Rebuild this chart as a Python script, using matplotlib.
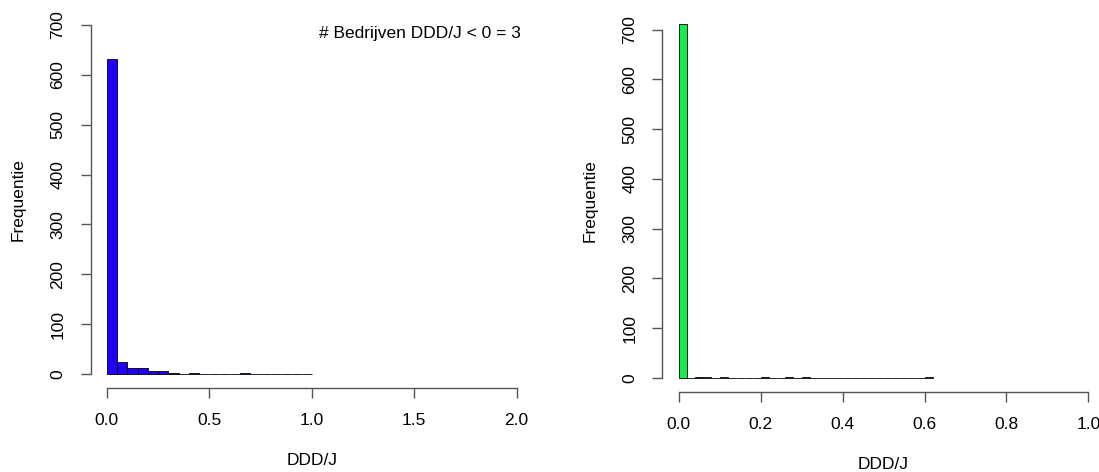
import matplotlib
matplotlib.use("Agg")
import matplotlib.pyplot as plt
import numpy as np

# --- data ---
left_binwidth = 0.05
left_counts = [631, 24, 13, 13, 6, 6, 3, 1, 3, 0,
               1, 1, 0, 3, 1, 1, 0, 0, 1, 1]
right_binwidth = 0.02
right_counts = [711, 0, 1, 1, 0, 1, 0, 0, 0, 0,
                1, 0, 0, 1, 0, 1, 0, 0, 0, 0,
                0, 0, 0, 0, 0, 0, 0, 0, 0, 0, 1]
left_xticks = [0.0, 0.5, 1.0, 1.5, 2.0]
right_xticks = [0.0, 0.2, 0.4, 0.6, 0.8, 1.0]
yticks = [0, 100, 200, 300, 400, 500, 600, 700]
note = "# Bedrijven DDD/J < 0 = 3"

plt.rcParams['font.family'] = ['Liberation Sans', 'DejaVu Sans']
plt.rcParams['font.size'] = 12.5

fig = plt.figure(figsize=(10.99, 4.72), dpi=100)

W, H = 1099, 472
# axes placed like R's plot regions (pixels: left, top, right, bottom)
ax1 = fig.add_axes([90.5 / W, 1 - 388 / H, 442.5 / W, 377 / H])
ax2 = fig.add_axes([662.3 / W, 1 - 392 / H, 442.5 / W, 382 / H])


def r_hist(ax, counts, bw, color, xmax, ymax, xticks):
    counts = np.asarray(counts)
    edges = np.arange(len(counts)) * bw
    ax.bar(edges, counts, width=bw, align='edge', color=color,
           edgecolor='black', linewidth=0.6)
    # R style 4% padding around data ranges
    ax.set_xlim(-0.04 * xmax, 1.04 * xmax)
    ax.set_ylim(-0.04 * ymax, 1.04 * ymax)
    for s in ['top', 'right']:
        ax.spines[s].set_visible(False)
    for s in ['left', 'bottom']:
        ax.spines[s].set_color('#555555')
        ax.spines[s].set_linewidth(1.0)
    ax.spines['bottom'].set_bounds(xticks[0], xticks[-1])
    ax.spines['left'].set_bounds(yticks[0], yticks[-1])
    ax.set_xticks(xticks)
    ax.set_xticklabels([f"{t:.1f}" for t in xticks])
    ax.set_yticks(yticks)
    ax.set_yticklabels([str(t) for t in yticks], rotation=90, va='center')
    ax.tick_params(length=7, width=1.0, color='#555555', pad=11,
                   labelcolor='black')
    ax.set_xlabel('DDD/J', labelpad=18)
    ax.set_ylabel('Frequentie', labelpad=18)
    ax.patch.set_visible(False)


r_hist(ax1, left_counts, left_binwidth, '#1e00f8', 2.0, 700, left_xticks)
r_hist(ax2, right_counts, right_binwidth, '#13ec4f', 1.0, 711, right_xticks)

ax1.text(0.972, 0.94, note, transform=ax1.transAxes, ha='right',
         va='center', fontsize=12.5)

fig.savefig('out.png', dpi=100)
